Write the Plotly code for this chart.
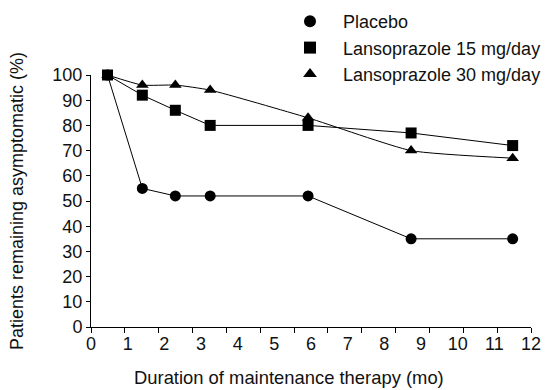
import plotly.graph_objects as go

months = [0.45, 1.4, 2.3, 3.25, 5.92, 8.73, 11.5]
placebo = [100, 55, 52, 52, 52, 35, 35]
lanso15 = [100, 92, 86, 80, 80, 77, 72]
lanso30 = [100, 96, 96, 94, 83, 70, 67]
x_labels = list(range(13))
y_labels = list(range(0, 101, 10))
x_title = "Duration of maintenance therapy (mo)"
y_title = "Patients remaining asymptomatic (%)"

series = [
    ("Placebo", placebo, "circle", "linear"),
    ("Lansoprazole 15 mg/day", lanso15, "square", "linear"),
    ("Lansoprazole 30 mg/day", lanso30, "triangle-up", "spline"),
]

fig = go.Figure()
for name, vals, sym, shape in series:
    fig.add_trace(go.Scatter(
        x=months, y=vals, mode="lines+markers", name=name, showlegend=False,
        line=dict(color="black", width=1, shape=shape, smoothing=0.5),
        marker=dict(symbol=sym, size=11, color="black"),
        cliponaxis=False,
    ))
for name, vals, sym, shape in series:
    fig.add_trace(go.Scatter(
        x=[None], y=[None], mode="markers", name=name,
        marker=dict(symbol=sym, size=12, color="black"),
    ))

W, H = 545, 390
L, R, T, B = 91, 14, 75, 63
font = dict(family="Liberation Sans, Arial, sans-serif", size=18, color="#111")
fig.update_layout(
    width=W, height=H,
    margin=dict(l=L, r=R, t=T, b=B, autoexpand=False),
    paper_bgcolor="white", plot_bgcolor="white",
    font=font,
    legend=dict(x=277 / W, y=1 - 3 / H, xref="container", yref="container",
                xanchor="left", yanchor="top",
                font=dict(size=18), tracegroupgap=0,
                bgcolor="rgba(0,0,0,0)", itemwidth=56),
    annotations=[dict(text=x_title,
                      x=(289 - L) / (W - L - R), y=(H - B - 377) / (H - B - T),
                      xref="paper", yref="paper", showarrow=False,
                      xanchor="center", yanchor="middle",
                      font=dict(size=18.4))],
)
# tick marks sit on 13 equal divisions of the axis (as in the original figure)
tick_marks = [12 * k / 13 for k in range(14)]
fig.update_xaxes(
    range=[0, 12], tickvals=x_labels, ticks="", ticklen=5,
    tickcolor="black", showline=True, linecolor="black", linewidth=1,
    showgrid=False, zeroline=False, automargin=False, tickfont=dict(size=18),
    minor=dict(tickvals=tick_marks, ticks="outside", ticklen=5,
               tickcolor="black", showgrid=False),
)
fig.update_yaxes(
    range=[0, 100], tickvals=y_labels, ticks="outside", ticklen=4,
    tickcolor="black", showline=True, linecolor="black", linewidth=1,
    showgrid=False, zeroline=False, automargin=False, tickfont=dict(size=18),
    title=dict(text=y_title, standoff=24, font=dict(size=18)),
)
fig.write_html("out.html", config={"displayModeBar": False},
               post_script="document.body.style.margin='0';document.body.style.overflow='hidden';")
